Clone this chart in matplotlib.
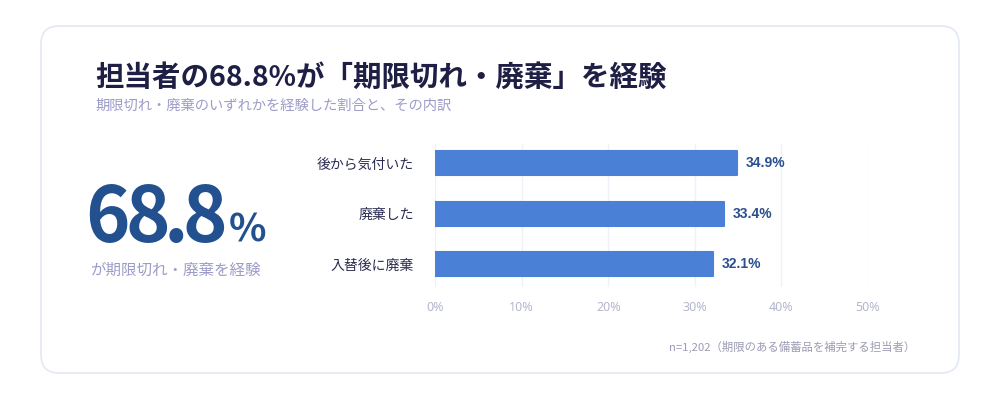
import matplotlib
matplotlib.use("Agg")
import matplotlib.pyplot as plt
from matplotlib.patches import FancyBboxPatch
from matplotlib.textpath import TextPath
from matplotlib.font_manager import FontProperties

plt.rcParams['font.family'] = ['Noto Sans CJK JP', 'DejaVu Sans']

# データ
categories = ['後から気付いた', '廃棄した', '入替後に廃棄']
values = [34.9, 33.4, 32.1]
ticks = [0, 10, 20, 30, 40, 50]
tick_labels = ['0%', '10%', '20%', '30%', '40%', '50%']

title = '担当者の68.8%が「期限切れ・廃棄」を経験'
subtitle = '期限切れ・廃棄のいずれかを経験した割合と、その内訳'
big_number = '68.8'
big_caption = 'が期限切れ・廃棄を経験'
note = 'n=1,202（期限のある備蓄品を補完する担当者）'

bar_color = '#4a80d6'
navy = '#1f1f45'
lavender = '#9d9cc9'
big_color = '#23508f'

fig = plt.figure(figsize=(10, 4), dpi=100)
fig.patch.set_facecolor('white')

# 背景（ピクセル座標）
bg = fig.add_axes([0, 0, 1, 1], zorder=0)
bg.set_xlim(0, 1000)
bg.set_ylim(400, 0)
bg.axis('off')
card = FancyBboxPatch((41, 26), 918, 347, boxstyle='round,pad=0,rounding_size=18',
                      facecolor='white', edgecolor='#e3e9f2', linewidth=1.2)
bg.add_patch(card)

bg.text(95, 78, title, fontsize=20.5, fontweight='bold', color=navy, va='center', ha='left')
bg.text(95, 106, subtitle, fontsize=10.3, color=lavender, va='center', ha='left')


def tight_text(x, y, s, size, gap):
    # 1文字ずつ詰めて配置（インク幅基準）
    fp = FontProperties(family='Noto Sans CJK JP', weight='bold', size=size)
    k = 100 / 72
    for ch in s:
        ext = TextPath((0, 0), ch, size=size, prop=fp).get_extents()
        bg.text(x - ext.x0 * k, y, ch, fontsize=size, fontweight='bold', color=big_color,
                va='baseline', ha='left')
        x += ext.width * k + gap
    return x - gap


end = tight_text(89, 242, big_number, 54.5, 2.5)
tight_text(end + 7, 242, '%', 28, 0)
bg.text(90, 270, big_caption, fontsize=11.2, color=lavender, va='center', ha='left')

bg.text(915, 347, note, fontsize=8.2, color='#9c9cb4', va='center', ha='right')

# 棒グラフ
ax = fig.add_axes([0.435, 0.2825, 0.433, 0.3575], zorder=1)
ax.patch.set_alpha(0)
y = list(range(len(categories)))
bars = ax.barh(y, values, height=0.47, color=bar_color, edgecolor=bar_color,
               linewidth=1.5, joinstyle='round', zorder=2)
for b, v in zip(bars, values):
    ax.annotate(f'{v}%', (b.get_width(), b.get_y() + b.get_height() / 2),
                xytext=(6, 0), textcoords='offset points', va='center', ha='left',
                fontsize=10, fontweight='bold', color='#2b4f8e',
                family=['Liberation Sans', 'DejaVu Sans'])

ax.set_xlim(0, 50)
ax.set_ylim(2.45, -0.38)
ax.set_xticks(ticks)
ax.set_xticklabels(tick_labels, fontsize=9, color='#b4b6cd',
                   family=['Noto Sans', 'DejaVu Sans'])
ax.set_yticks(y)
ax.set_yticklabels(categories, fontsize=10, color='#2a2a52')
ax.tick_params(axis='x', length=0, pad=10)
ax.tick_params(axis='y', length=0, pad=15)
ax.grid(axis='x', color='#eef1f7', linewidth=1, zorder=0)
ax.set_axisbelow(True)
for s in ax.spines.values():
    s.set_visible(False)

fig.savefig('out.png', dpi=100, facecolor='white')
